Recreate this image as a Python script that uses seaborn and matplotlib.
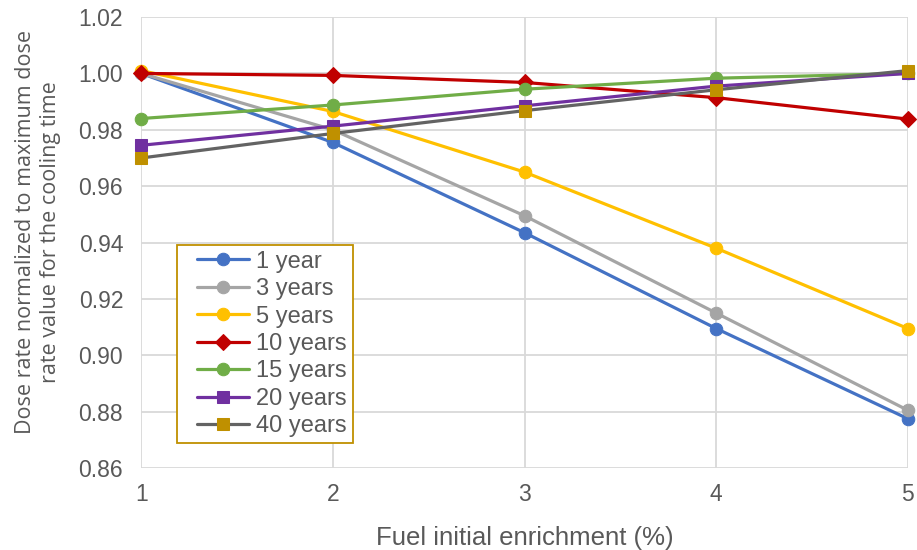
import numpy as np
import pandas as pd
import matplotlib
matplotlib.use("Agg")
import matplotlib.pyplot as plt
from matplotlib.lines import Line2D
from matplotlib.legend_handler import HandlerLine2D
import seaborn as sns

enrichment = [1, 2, 3, 4, 5]
series_names = ["1 year", "3 years", "5 years", "10 years", "15 years", "20 years", "40 years"]
y_1 = [1.000, 0.9755, 0.9435, 0.9095, 0.8775]
y_3 = [1.000, 0.9800, 0.9495, 0.9150, 0.8805]
y_5 = [1.001, 0.9865, 0.9650, 0.9380, 0.9095]
y_10 = [1.000, 0.9993, 0.9968, 0.9914, 0.9838]
y_15 = [0.9840, 0.9888, 0.9944, 0.9983, 1.000]
y_20 = [0.9745, 0.9813, 0.9885, 0.9955, 1.000]
y_40 = [0.9700, 0.9787, 0.9868, 0.9942, 1.001]
values = [y_1, y_3, y_5, y_10, y_15, y_20, y_40]

line_colors = ["#4472C4", "#A5A5A5", "#FFC000", "#C00000", "#70AD47", "#7030A0", "#636363"]
marker_colors = ["#4472C4", "#A5A5A5", "#FFC000", "#C00000", "#70AD47", "#7030A0", "#BF9000"]
markers = ["o", "o", "o", "D", "o", "s", "s"]
msizes = [9, 9, 9, 8, 9, 9, 9]

df = pd.DataFrame({
    "enrichment": enrichment * len(series_names),
    "value": np.concatenate(values),
    "series": np.repeat(series_names, len(enrichment)),
})

sns.set_style("whitegrid")
plt.rcParams["font.family"] = ["Liberation Sans", "DejaVu Sans"]
text_col = "#595959"

fig = plt.figure(figsize=(9.17, 5.5), dpi=100)
ax = fig.add_axes([0.154, 0.149, 0.836, 0.82])

for i, name in enumerate(series_names):
    sub = df[df["series"] == name]
    sns.lineplot(data=sub, x="enrichment", y="value", ax=ax, color=line_colors[i],
                 linewidth=2.3, marker=markers[i], markersize=msizes[i],
                 markerfacecolor=marker_colors[i], markeredgecolor=marker_colors[i],
                 label=name, zorder=3 + i, clip_on=False)

ax.set_xlim(1, 5)
ax.set_ylim(0.86, 1.02)
ax.set_xticks(enrichment)
ax.set_yticks(np.arange(0.86, 1.0201, 0.02))
ax.yaxis.set_major_formatter(matplotlib.ticker.FormatStrFormatter("%.2f"))
ax.grid(True, color="#D9D9D9", linewidth=1.3)
for s in ax.spines.values():
    s.set_visible(False)
ax.tick_params(axis="both", labelsize=16.5, colors=text_col, length=0)
ax.tick_params(axis="y", pad=13)
ax.tick_params(axis="x", length=5, color="#D9D9D9", pad=6)

ax.set_xlabel("Fuel initial enrichment (%)", fontsize=18.5, color=text_col, labelpad=14)
ax.set_ylabel("Dose rate normalized to maximum dose\nrate value for the cooling time",
              fontsize=15.5, color=text_col, family=["Open Sans", "DejaVu Sans"],
              linespacing=1.3)
ax.yaxis.set_label_coords(-0.104, 0.523)

leg = ax.legend(loc="lower left", bbox_to_anchor=(0.047, 0.055), fontsize=17,
                frameon=True, fancybox=False, handlelength=2.8, borderpad=0.25,
                borderaxespad=0, labelspacing=0.23, handletextpad=0.3,
                handler_map={Line2D: HandlerLine2D(xpad=0.6)})
leg.get_frame().set_edgecolor("#BF9000")
leg.get_frame().set_linewidth(1.3)
leg.get_frame().set_alpha(1)
for t in leg.get_texts():
    t.set_color(text_col)

fig.savefig("out.png", dpi=100)
